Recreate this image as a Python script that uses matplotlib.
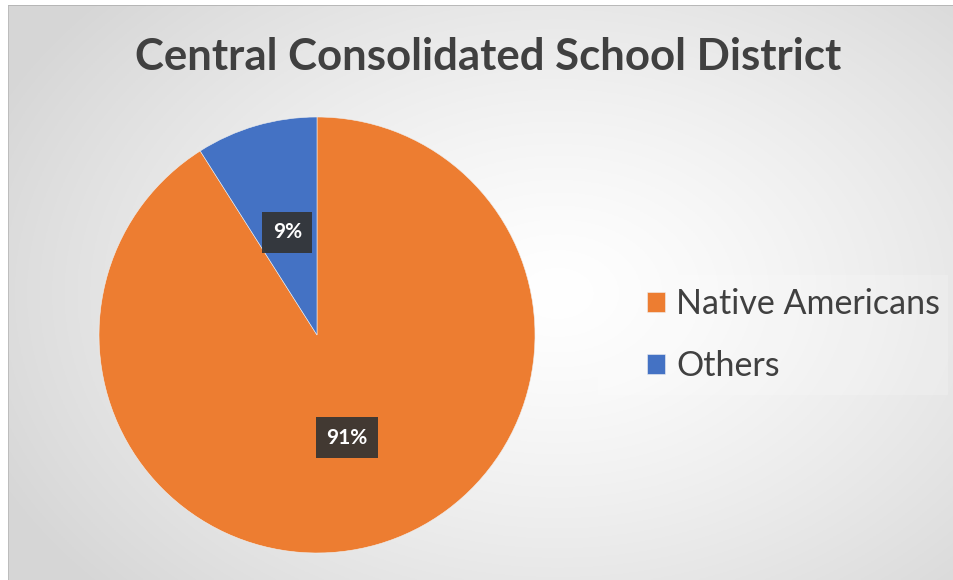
import matplotlib
matplotlib.use("Agg")
import matplotlib.pyplot as plt
import numpy as np
from matplotlib.patches import Rectangle

title = "Central Consolidated School District"
categories = ["Native Americans", "Others"]
values = [91, 9]
colors = ["#ED7D31", "#4472C4"]

W, H = 954, 580
fig = plt.figure(figsize=(W / 100, H / 100), dpi=100)
fig.patch.set_facecolor("white")

# background radial gradient
bg = fig.add_axes([8 / W, 0, (W - 8) / W, (H - 5) / H])
bg.set_axis_off()
yy, xx = np.mgrid[0:300, 0:500]
cx, cy = 290, 150
d = np.sqrt(((xx - cx) / 330) ** 2 + ((yy - cy) / 230) ** 2)
d = np.clip(d, 0, 1)
val = 1.0 - 0.16 * d ** 1.3
img = np.dstack([val, val, val])
bg.imshow(img, extent=[0, 1, 0, 1], aspect="auto", origin="upper")
bg.set_xlim(0, 1)
bg.set_ylim(0, 1)
bg.plot([0, 1], [1, 1], color="#b0b0b0", lw=1.2)
bg.plot([0, 0], [0, 1], color="#b8b8b8", lw=1.2)
# legend backing
bg.add_patch(Rectangle(((598 - 8) / (W - 8), (H - 395) / (H - 5)), 350 / (W - 8), 120 / (H - 5),
                       facecolor="white", alpha=0.18, edgecolor="none"))

fig.text(488 / W, 1 - 57 / H, title, ha="center", va="center",
         fontsize=31.5, fontweight="bold", color="#404040", family="Lato")

r = 218
cxp, cyp = 317, 335
ax = fig.add_axes([(cxp - r) / W, (H - cyp - r) / H, 2 * r / W, 2 * r / H])
wedges, texts, autotexts = ax.pie(values, colors=colors, startangle=90, counterclock=False,
                                  autopct=lambda p: f"{p:.0f}%", pctdistance=0.49,
                                  wedgeprops=dict(linewidth=0.4, edgecolor="#f0f0f0"),
                                  textprops=dict(color="white", fontsize=15, fontweight="bold",
                                                 family="Lato"))
for t in autotexts:
    t.set_bbox(dict(boxstyle="square,pad=0.5", facecolor="#333333", edgecolor="none", alpha=0.92))
ax.set_aspect("equal")
ax.set_xlim(-1, 1)
ax.set_ylim(-1, 1)

leg = fig.legend(wedges, categories, loc="center left", bbox_to_anchor=(616 / W, 1 - 335 / H),
                 frameon=False, handlelength=0.53, handleheight=0.53, handletextpad=0.33,
                 labelspacing=0.88, labelcolor="#404040", prop=dict(family="Lato", size=24.5))

fig.savefig("out.png", dpi=100)
